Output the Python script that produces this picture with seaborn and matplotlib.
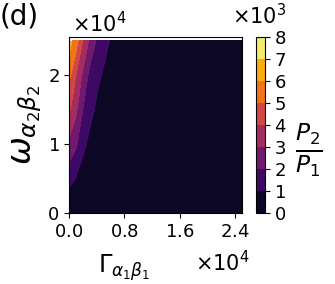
import numpy as np
import matplotlib
matplotlib.use("Agg")
import matplotlib.pyplot as plt
import seaborn as sns

plt.rcParams['font.family'] = ['DejaVu Sans']
plt.rcParams['mathtext.fontset'] = 'dejavusans'

# grid of Gamma_{a1b1} and omega_{a2b2} (units of 1e4)
gamma_vals = [0.0, 0.1, 0.2, 0.3, 0.4, 0.6, 0.8, 1.6, 2.5]
omega_vals = [0.0, 0.5, 1.0, 1.5, 2.0, 2.5]

# P2/P1 (units of 1e3), one row per omega value
ratio_w00 = [0.0, 0.0, 0.0, 0.0, 0.0, 0.0, 0.0, 0.0, 0.0]
ratio_w05 = [1.37, 0.95, 0.55, 0.35, 0.22, 0.10, 0.05, 0.01, 0.0]
ratio_w10 = [2.76, 2.15, 1.25, 0.75, 0.50, 0.25, 0.12, 0.02, 0.01]
ratio_w15 = [4.20, 3.20, 2.00, 1.30, 0.85, 0.40, 0.20, 0.04, 0.01]
ratio_w20 = [5.30, 4.00, 2.80, 1.70, 1.20, 0.60, 0.30, 0.05, 0.02]
ratio_w25 = [6.50, 5.50, 4.00, 2.80, 1.90, 0.95, 0.50, 0.10, 0.03]

levels = [0, 1, 2, 3, 4, 5, 6, 7, 8]

G = np.array(gamma_vals) * 1e4
W = np.array(omega_vals) * 1e4
Z = np.array([ratio_w00, ratio_w05, ratio_w10, ratio_w15, ratio_w20, ratio_w25]) * 1e3

cmap = sns.color_palette("inferno", as_cmap=True)

fig = plt.figure(figsize=(3.35, 2.84), dpi=100)
ax = fig.add_axes([0.206, 0.25, 0.516, 0.618])
cax = fig.add_axes([0.764, 0.25, 0.026, 0.618])

cs = ax.contourf(G, W, Z, levels=np.array(levels) * 1e3, cmap=cmap)
ax.set_xlim(0, 2.5e4)
ax.set_ylim(0, 2.55e4)
ax.set_xticks([0, 0.8e4, 1.6e4, 2.4e4])
ax.set_yticks([0, 1e4, 2e4])
ax.ticklabel_format(style='sci', scilimits=(0, 0), useMathText=True)
ax.tick_params(labelsize=13)
ax.xaxis.get_offset_text().set_visible(False)
ax.yaxis.get_offset_text().set_visible(False)
ax.set_xlabel(r'$\Gamma_{\alpha_1\beta_1}$', fontsize=17.5)
ax.xaxis.set_label_coords(0.32, -0.225)
ax.set_ylabel(r'$\omega_{\alpha_2\beta_2}$', fontsize=24, labelpad=2)

cbar = fig.colorbar(cs, cax=cax)
cbar.set_ticks(np.array(levels) * 1e3)
cbar.formatter.set_scientific(True)
cbar.formatter.set_powerlimits((0, 0))
cbar.formatter.set_useMathText(True)
cbar.update_ticks()
cbar.ax.tick_params(labelsize=13)
cbar.ax.yaxis.get_offset_text().set_visible(False)
cbar.ax.set_ylabel(r'$\frac{P_2}{P_1}$', fontsize=24, rotation=0, ha='center', va='center')
cbar.ax.yaxis.set_label_coords(6.1, 0.36)

# scale factors
fig.text(72 / 335, 1 - 32 / 284, r'$\times10^{4}$', fontsize=15, va='baseline')
fig.text(195 / 335, 1 - 271 / 284, r'$\times10^{4}$', fontsize=15, va='baseline')
fig.text(232 / 335, 1 - 24 / 284, r'$\times10^{3}$', fontsize=15, va='baseline')

fig.text(0.0, 0.99, '(d)', fontsize=20, ha='left', va='top')

fig.savefig('out.png', dpi=100)
